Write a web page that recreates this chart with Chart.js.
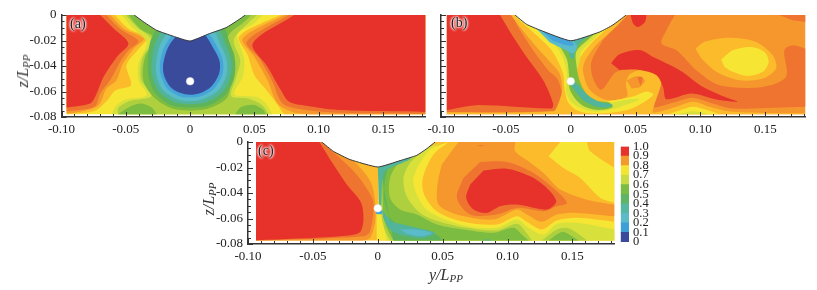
<!DOCTYPE html>
<html>
<head>
<meta charset="utf-8">
<title>Contours</title>
<script src="https://cdn.jsdelivr.net/npm/chart.js@4"></script>
<style>
  html, body { margin: 0; background: #fff; }
  #page { position: relative; width: 817px; height: 290px; overflow: hidden; font-family: "Liberation Serif", serif; color: #222; }
  canvas { position: absolute; filter: blur(0.4px); }
  .tag { position: absolute; font-size: 14px; color: #222; text-shadow: 0 0 2px #fff, 0 0 2px #fff, 0 0 3px #fff, 0 0 3px #fff; }
  .axt { position: absolute; font-size: 16px; font-style: italic; white-space: nowrap; color: #333; }
  .axt sub { font-size: 11px; vertical-align: -2px; line-height: 0; }
  .rot { transform: translate(-50%, -50%) rotate(-90deg); }
</style>
</head>
<body>
<div id="page">
  <canvas id="panelA" style="left:0;top:0"></canvas>
  <canvas id="panelB" style="left:420px;top:0"></canvas>
  <canvas id="panelC" style="left:200px;top:127px"></canvas>
  <canvas id="colorbar" style="left:612px;top:135px"></canvas>
  <div class="tag" style="left:70px;top:16px">(a)</div>
  <div class="tag" style="left:451px;top:15px">(b)</div>
  <div class="tag" style="left:258px;top:143px">(c)</div>
  <div class="axt rot" style="left:23px;top:71px">z/L<sub>PP</sub></div>
  <div class="axt rot" style="left:209px;top:199px">z/L<sub>PP</sub></div>
  <div class="axt" style="left:429px;top:266px">y/L<sub>PP</sub></div>
</div>
<script>
// tick labels and colour bar levels
const xTicks = [-0.10, -0.05, 0, 0.05, 0.10, 0.15];
const zTicks = [0, -0.02, -0.04, -0.06, -0.08];
const barLevels = [0, 0.1, 0.2, 0.3, 0.4, 0.5, 0.6, 0.7, 0.8, 0.9, 1.0];
const probe = [0, -0.052];

// contour regions: [level, [[y, z], ...]], painted in order
const hullA = [[-0.0435,0],[-0.036,-0.0055],[-0.026,-0.012],[-0.013,-0.0167],[0,-0.0204],[0.015,-0.0146],[0.028,-0.0099],[0.037,-0.0042],[0.043,0]];
const regionsA = [
  [0.7, [[-0.096,0],[0.183,0],[0.183,-0.0778],[-0.096,-0.0778]]],
  [0.75, [[-0.096,0],[-0.0585,0],[-0.048,-0.0107],[-0.0335,-0.0178],[-0.04,-0.0264],[-0.0495,-0.0395],[-0.046,-0.0551],[-0.058,-0.059],[-0.0645,-0.067],[-0.0745,-0.0752],[-0.096,-0.0778]]],
  [0.8, [[-0.096,0],[-0.0618,0],[-0.0515,-0.0107],[-0.036,-0.0185],[-0.044,-0.0264],[-0.0522,-0.0381],[-0.0573,-0.0512],[-0.065,-0.0577],[-0.0712,-0.0707],[-0.0855,-0.0759],[-0.096,-0.077]]],
  [0.85, [[-0.096,0],[-0.0652,0],[-0.0545,-0.0107],[-0.0402,-0.0204],[-0.048,-0.0277],[-0.0545,-0.0368],[-0.0622,-0.0512],[-0.07,-0.0616],[-0.0738,-0.0715],[-0.088,-0.0747],[-0.096,-0.0755]]],
  [0.95, [[-0.096,0],[-0.07,0],[-0.059,-0.011],[-0.048,-0.0224],[-0.057,-0.0329],[-0.0673,-0.0485],[-0.0738,-0.0642],[-0.0777,-0.0694],[-0.096,-0.0726]]],
  [0.75, [[0.183,0],[0.0698,0],[0.0383,-0.0167],[0.0448,-0.0316],[0.05,-0.0472],[0.0577,-0.0569],[0.0654,-0.0668],[0.0731,-0.0778],[0.183,-0.0778]]],
  [0.8, [[0.183,0],[0.0731,0],[0.0409,-0.0185],[0.05,-0.0329],[0.0602,-0.0512],[0.068,-0.0694],[0.0796,-0.076],[0.0925,-0.0778],[0.183,-0.0778]]],
  [0.85, [[0.183,0],[0.0765,0],[0.044,-0.021],[0.0538,-0.034],[0.0641,-0.0525],[0.0719,-0.0694],[0.0873,-0.0741],[0.118,-0.0767],[0.183,-0.0775]]],
  [0.95, [[0.183,0],[0.0809,0],[0.0487,-0.0224],[0.0603,-0.0407],[0.0706,-0.059],[0.077,-0.068],[0.0925,-0.0715],[0.118,-0.0746],[0.183,-0.076]]],
  [0.65, [[-0.0531,0],[-0.0454,-0.0094],[-0.0338,-0.0211],[-0.0402,-0.0381],[-0.0402,-0.0512],[-0.0338,-0.0629],[-0.0506,-0.0663],[-0.0583,-0.072],[-0.0609,-0.0778],[0.0641,-0.0778],[0.059,-0.0694],[0.0512,-0.0642],[0.0345,-0.0621],[0.0409,-0.0485],[0.0422,-0.0355],[0.0383,-0.0224],[0.037,-0.0146],[0.0487,-0.0073],[0.0564,0]]],
  [0.6, [[-0.05,0],[-0.0415,-0.0095],[-0.03,-0.0195],[-0.0375,-0.035],[-0.038,-0.051],[-0.03,-0.0635],[-0.047,-0.0675],[-0.056,-0.073],[-0.056,-0.0778],[0.061,-0.0778],[0.056,-0.0705],[0.045,-0.0655],[0.032,-0.0635],[0.036,-0.0485],[0.039,-0.0355],[0.034,-0.0195],[0.046,-0.0055],[0.052,0]]],
  [0.55, [[-0.048,0],[-0.039,-0.0107],[-0.0273,-0.0185],[-0.0351,-0.0329],[-0.0364,-0.0512],[-0.0286,-0.0642],[-0.015,-0.073],[0,-0.075],[0.015,-0.073],[0.029,-0.0645],[0.0319,-0.0485],[0.0345,-0.0316],[0.0293,-0.0172],[0.0435,-0.0042],[0.0474,0]]],
  [0.55, [[-0.056,-0.0778],[-0.048,-0.0725],[-0.0385,-0.0695],[-0.03,-0.0725],[-0.026,-0.0778]]],
  [0.55, [[0.035,-0.0778],[0.04,-0.072],[0.05,-0.0705],[0.057,-0.0745],[0.059,-0.0778]]],
  [0.5, [[-0.025,-0.008],[-0.031,-0.021],[-0.033,-0.038],[-0.032,-0.05],[-0.027,-0.0615],[-0.014,-0.071],[0,-0.0725],[0.014,-0.071],[0.0275,-0.0625],[0.034,-0.05],[0.035,-0.036],[0.0305,-0.021],[0.025,-0.008],[0,-0.001]]],
  [0.4, [[-0.021,-0.01],[-0.0275,-0.023],[-0.03,-0.038],[-0.029,-0.049],[-0.024,-0.06],[-0.012,-0.0685],[0,-0.07],[0.012,-0.0685],[0.0245,-0.061],[0.031,-0.049],[0.032,-0.036],[0.0275,-0.023],[0.021,-0.01],[0,-0.003]]],
  [0.3, [[-0.017,-0.012],[-0.024,-0.025],[-0.0265,-0.038],[-0.026,-0.048],[-0.021,-0.059],[-0.01,-0.066],[0,-0.0675],[0.01,-0.066],[0.0215,-0.0595],[0.028,-0.048],[0.0285,-0.036],[0.024,-0.024],[0.0175,-0.012],[0,-0.005]]],
  [0.2, [[-0.0135,-0.0146],[-0.0205,-0.026],[-0.0235,-0.038],[-0.0228,-0.047],[-0.018,-0.0575],[-0.009,-0.0635],[0,-0.0648],[0.009,-0.0635],[0.0185,-0.0578],[0.025,-0.047],[0.0255,-0.036],[0.021,-0.025],[0.014,-0.0146],[0,-0.008]]],
  [0.05, [[-0.0093,-0.0146],[-0.017,-0.025],[-0.0209,-0.038],[-0.0204,-0.047],[-0.0157,-0.056],[-0.008,-0.061],[0,-0.0626],[0.008,-0.0612],[0.0165,-0.056],[0.0225,-0.046],[0.0229,-0.036],[0.0175,-0.025],[0.0105,-0.0146],[0,-0.01]]]
];

const hullB = [[-0.043,0],[-0.034,-0.0073],[-0.0238,-0.0118],[0,-0.0202],[0.0223,-0.0133],[0.0325,-0.0078],[0.0428,0]];
const regionsB = [
  [0.8, [[-0.0955,0],[0.181,0],[0.181,-0.0778],[-0.0955,-0.0778]]],
  [0.85, [[-0.0955,0],[-0.045,0],[-0.0405,-0.0094],[-0.029,-0.0277],[-0.0174,-0.0433],[-0.0097,-0.0512],[-0.0059,-0.0721],[-0.0136,-0.0751],[-0.0955,-0.0775]]],
  [0.95, [[-0.0955,0],[-0.0545,0],[-0.0443,-0.0172],[-0.034,-0.0329],[-0.0212,-0.0512],[-0.0136,-0.0694],[-0.0149,-0.0733],[-0.0725,-0.0707],[-0.0955,-0.0746]]],
  [0.85, [[0.044,0],[0.0802,0],[0.0738,-0.012],[0.07,-0.0224],[0.0815,-0.0277],[0.0968,-0.0433],[0.1148,-0.0551],[0.148,-0.0564],[0.166,-0.0485],[0.1647,-0.0277],[0.1711,-0.0238],[0.181,-0.0264],[0.181,-0.072],[0.125,-0.0733],[0.1096,-0.0694],[0.0943,-0.065],[0.0815,-0.0681],[0.0636,-0.0726],[0.0597,-0.0681],[0.0712,-0.0512],[0.0674,-0.0446],[0.0559,-0.042],[0.0354,-0.0446],[0.0236,-0.0587],[0.0172,-0.0496],[0.016,-0.0365],[0.0248,-0.0196]]],
  [0.85, [[0.1608,0],[0.181,0],[0.181,-0.0055],[0.1711,-0.0042]]],
  [0.95, [[0.0462,0],[0.0482,-0.0068],[0.052,-0.0094],[0.0572,-0.0055],[0.0584,0]]],
  [0.75, [[-0.046,0],[-0.0392,-0.0094],[-0.0264,-0.0251],[-0.0148,-0.0381],[-0.0086,-0.0457],[-0.0066,-0.0588],[-0.01,-0.0705],[-0.0138,-0.0757],[-0.0955,-0.0762],[-0.0955,-0.0778],[0.181,-0.0778],[0.181,-0.0773],[0.125,-0.0759],[0.1071,-0.072],[0.0943,-0.0681],[0.0815,-0.072],[0.0636,-0.0767],[0.0636,-0.0733],[0.07,-0.0525],[0.0674,-0.0472],[0.0572,-0.0425],[0.0456,-0.0465],[0.0426,-0.0538],[0.0433,-0.064],[0.0274,-0.0666],[0.0146,-0.0587],[0.0095,-0.0444],[0.0108,-0.0365],[0.0197,-0.0235],[0.0364,-0.0078],[0.0433,0]]],
  [0.8, [[0.0431,-0.0512],[0.0508,-0.048],[0.0572,-0.0512],[0.0533,-0.0564],[0.0469,-0.0577]]],
  [0.85, [[0.0513,-0.0485],[0.0554,-0.049],[0.0538,-0.0558]]],
  [0.95, [[0.0312,-0.0378],[0.0376,-0.0308],[0.053,-0.0274],[0.0636,-0.0329],[0.084,-0.0433],[0.102,-0.0564],[0.12,-0.0647],[0.1288,-0.0681],[0.1122,-0.0663],[0.093,-0.0616],[0.0738,-0.066],[0.0712,-0.0564],[0.0661,-0.0472],[0.053,-0.0431],[0.0376,-0.0431]]],
  [0.75, [[0.0963,-0.0264],[0.1032,-0.021],[0.1224,-0.0178],[0.1429,-0.0211],[0.1557,-0.0316],[0.1583,-0.042],[0.148,-0.0499],[0.1301,-0.0512],[0.1122,-0.0446],[0.1007,-0.0342]]],
  [0.7, [[0.116,-0.035],[0.125,-0.0277],[0.1391,-0.0251],[0.1493,-0.029],[0.1526,-0.0368],[0.148,-0.0446],[0.1365,-0.0478],[0.125,-0.0446],[0.1186,-0.0407]]],
  [0.7, [[0.075,-0.0778],[0.085,-0.0745],[0.0943,-0.072],[0.105,-0.0745],[0.115,-0.0778]]],
  [0.65, [[0.083,-0.0778],[0.094,-0.0755],[0.106,-0.0778]]],
  [0.7, [[-0.043,-0.001],[-0.016,-0.0261],[-0.0084,-0.0392],[-0.0054,-0.0483],[-0.0048,-0.0575],[-0.0022,-0.068],[0.0042,-0.0745],[0.0144,-0.0771],[0.0323,-0.0765],[0.0477,-0.0731],[0.0636,-0.0627],[0.058,-0.0601],[0.0477,-0.064],[0.0323,-0.0671],[0.0195,-0.068],[0.0093,-0.0614],[0.0054,-0.051],[0.0044,-0.0444],[0.0056,-0.0365],[0.0146,-0.0235],[0.0312,-0.0078],[0.0389,-0.0013]]],
  [0.65, [[-0.04,-0.001],[-0.0136,-0.0222],[-0.0059,-0.0339],[-0.0028,-0.047],[-0.0035,-0.0601],[0.0003,-0.068],[0.008,-0.0732],[0.0195,-0.0758],[0.0349,-0.0731],[0.0477,-0.0687],[0.0528,-0.066],[0.0451,-0.0661],[0.0323,-0.0687],[0.0195,-0.0706],[0.0106,-0.0653],[0.0067,-0.0536],[0.0042,-0.0471],[0.0069,-0.0365],[0.0082,-0.0287],[0.0197,-0.017],[0.0287,-0.0078],[0.0351,-0.0013]]],
  [0.55, [[-0.036,-0.003],[-0.0136,-0.0183],[-0.0033,-0.0339],[-0.0013,-0.047],[-0.001,-0.0575],[0.0042,-0.0666],[0.0118,-0.0724],[0.022,-0.0745],[0.0323,-0.0724],[0.0298,-0.0687],[0.0195,-0.0671],[0.0118,-0.0614],[0.0067,-0.051],[0.0044,-0.0392],[0.0044,-0.0287],[0.0146,-0.0183],[0.0261,-0.0078],[0.0312,-0.0039]]],
  [0.4, [[-0.03,-0.005],[-0.011,-0.017],[-0.002,-0.0287],[0,-0.034],[0.0025,-0.034],[0.0035,-0.027],[0.0082,-0.0212],[0.02,-0.012],[0.028,-0.005]]],
  [0.4, [[-0.0005,-0.0545],[0.0093,-0.0666],[0.0195,-0.0718],[0.0272,-0.0726],[0.0323,-0.0705],[0.022,-0.068],[0.0131,-0.0627],[0.006,-0.055],[0.002,-0.052]]],
  [0.3, [[-0.027,-0.01],[0,-0.0195],[0.005,-0.0245],[0.002,-0.03],[-0.004,-0.0275],[-0.016,-0.0215]]],
  [0.2, [[-0.022,-0.0125],[0,-0.0204],[0.0023,-0.0238],[-0.0033,-0.0238],[-0.0136,-0.0204]]]
];

const hullC = [[-0.0432,0],[-0.0342,-0.0073],[-0.0213,-0.0138],[0,-0.0196],[0.0172,-0.0146],[0.0301,-0.0104],[0.0378,-0.0052],[0.0442,0]];
const regionsC = [
  [0.75, [[-0.0938,0],[0.1824,0],[0.1824,-0.0773],[-0.0938,-0.0773]]],
  [0.8, [[-0.0938,0],[-0.04,0],[-0.0213,-0.0125],[-0.0111,-0.023],[-0.0046,-0.0334],[-0.002,-0.0478],[-0.002,-0.0621],[-0.0059,-0.0752],[-0.012,-0.0773],[-0.0938,-0.0773]]],
  [0.85, [[-0.0938,0],[-0.0432,0],[-0.0265,-0.0151],[-0.0162,-0.0256],[-0.0072,-0.0386],[-0.0033,-0.0478],[-0.0059,-0.07],[-0.011,-0.0739],[-0.0938,-0.0773]]],
  [0.95, [[-0.0938,0],[-0.045,0],[-0.0342,-0.0177],[-0.0239,-0.0334],[-0.0123,-0.0491],[-0.0131,-0.07],[-0.029,-0.0739],[-0.0938,-0.077]]],
  [0.8, [[0.0622,0],[0.1059,0],[0.1059,-0.0073],[0.1161,-0.0151],[0.1277,-0.0243],[0.1406,-0.0373],[0.1611,-0.0452],[0.1824,-0.0491],[0.1824,-0.0582],[0.1534,-0.0556],[0.138,-0.0569],[0.1264,-0.0626],[0.1149,-0.0569],[0.1072,-0.053],[0.0892,-0.0608],[0.0609,-0.0569],[0.0468,-0.0491],[0.046,-0.0334],[0.0493,-0.0177]]],
  [0.85, [[0.0789,-0.0157],[0.0994,-0.0157],[0.12,-0.0243],[0.138,-0.0386],[0.1457,-0.0478],[0.138,-0.0504],[0.1277,-0.0543],[0.1072,-0.0517],[0.0917,-0.0569],[0.0712,-0.0569],[0.0609,-0.0438],[0.066,-0.0282]]],
  [0.95, [[0.0815,-0.0224],[0.0994,-0.0209],[0.1174,-0.0269],[0.1303,-0.036],[0.1375,-0.0465],[0.1303,-0.053],[0.1072,-0.0491],[0.0943,-0.0504],[0.084,-0.0556],[0.0737,-0.053],[0.0681,-0.0438],[0.0712,-0.0334]]],
  [0.7, [[0.1406,0],[0.1611,0],[0.1637,-0.0073],[0.1824,-0.0204],[0.1824,-0.0478],[0.1714,-0.0438],[0.156,-0.0282],[0.1431,-0.0204],[0.1316,-0.0112]]],
  [0.85, [[0.0765,-0.0025],[0.0789,-0.0033],[0.083,-0.0025]]],
  [0.7, [[0,-0.019],[0.0545,0],[0.0429,-0.0099],[0.0347,-0.0282],[0.0357,-0.0412],[0.0455,-0.0543],[0.066,-0.0626],[0.0917,-0.0647],[0.1072,-0.0582],[0.1149,-0.0626],[0.1264,-0.0686],[0.138,-0.0616],[0.1534,-0.0595],[0.1824,-0.0626],[0.1824,-0.0773],[-0.0008,-0.0773],[-0.0008,-0.0569],[0.0005,-0.049]]],
  [0.65, [[0.0018,-0.0204],[0.0493,0],[0.0378,-0.0086],[0.0275,-0.0282],[0.0301,-0.0412],[0.039,-0.0543],[0.066,-0.0653],[0.0917,-0.0673],[0.1072,-0.0608],[0.1161,-0.0673],[0.1277,-0.0726],[0.138,-0.0642],[0.1534,-0.0634],[0.1824,-0.0686],[0.1824,-0.0773],[0.0069,-0.0773],[0.0039,-0.0621],[0.0018,-0.0517]]],
  [0.6, [[0.002,-0.02],[0.0352,-0.006],[0.0249,-0.0164],[0.0198,-0.0282],[0.0223,-0.0425],[0.0326,-0.0556],[0.048,-0.0626],[0.066,-0.0668],[0.0917,-0.0694],[0.1072,-0.0642],[0.1136,-0.07],[0.1187,-0.0773],[0.0095,-0.0773],[0.0057,-0.07],[0.0031,-0.0595],[0.0026,-0.0465]]],
  [0.55, [[0.002,-0.02],[0.0275,-0.0099],[0.0172,-0.0151],[0.0095,-0.0282],[0.0095,-0.0438],[0.0172,-0.053],[0.03,-0.0569],[0.0455,-0.0647],[0.066,-0.0686],[0.0892,-0.0712],[0.1046,-0.0673],[0.111,-0.0726],[0.1161,-0.0773],[0.0121,-0.0773],[0.0082,-0.07],[0.0044,-0.0595],[0.0039,-0.0465],[0.0031,-0.0204]]],
  [0.6, [[0.1264,-0.0773],[0.138,-0.0686],[0.1457,-0.0673],[0.1534,-0.0712],[0.1611,-0.0773]]],
  [0.55, [[0.1316,-0.0773],[0.138,-0.0726],[0.1431,-0.0705],[0.1496,-0.0739],[0.1547,-0.0773]]],
  [0.5, [[0.002,-0.02],[0.008,-0.0185],[0.0055,-0.03],[0.005,-0.045],[0.01,-0.06],[0.018,-0.066],[0.045,-0.0725],[0.05,-0.0773],[0.012,-0.0773]]],
  [0.4, [[0,-0.02],[0.0249,-0.0112],[0.0249,-0.0135],[0.006,-0.0225],[0.0035,-0.03],[0.0025,-0.05],[0.001,-0.05]]],
  [0.4, [[0.0031,-0.053],[0.0108,-0.0626],[0.0172,-0.0642],[0.03,-0.0673],[0.0442,-0.0713],[0.0352,-0.0752],[0.0223,-0.0739],[0.0146,-0.072],[0.0082,-0.0673],[0.0044,-0.0595]]],
  [0.3, [[0.0172,-0.0686],[0.03,-0.0686],[0.0416,-0.0715],[0.0326,-0.0739],[0.0223,-0.072]]],
  [0.4, [[0.0789,-0.0773],[0.084,-0.0765],[0.0904,-0.0773]]],
  [0.2, [[-0.002,-0.054],[0.003,-0.054],[0.003,-0.0565],[-0.001,-0.0565]]]
];

const levelColors = {
  0.05: '#3B4B9C', 0.15: '#3E82C4', 0.2: '#45A5DA', 0.3: '#5ABBCB', 0.4: '#52B49A', 0.5: '#5DB45C',
  0.55: '#7CBC40', 0.6: '#AFD03E', 0.65: '#D8E03C', 0.7: '#F6E633', 0.75: '#FBBB2B', 0.8: '#F6972D',
  0.85: '#EE7430', 0.95: '#E6322B'
};
const barColors = ['#3B4B9C', '#3FA0D8', '#5DBBC9', '#57B7A0', '#5FB565', '#7DBC42', '#CBDB44', '#F5E533', '#F39A2C', '#E6322B'];

const toPoints = pts => pts.map(([x, y]) => ({ x, y }));
const fontTick = { family: '"Liberation Serif", serif', size: 13 };

// keep corners on the data edge square when the spline goes through them
function squareEdges(pts, xMin, xMax, zMin) {
  return pts.flatMap(p => (p[1] === 0 || p[1] <= zMin || p[0] <= xMin || p[0] >= xMax) ? [p, p] : [p]);
}

// ticks point inward in the original, so they get drawn by hand from the scales
const innerTicks = {
  id: 'innerTicks',
  afterDatasetsDraw(chart) {
    const { ctx, chartArea, scales: { x, y } } = chart;
    ctx.save();
    ctx.strokeStyle = '#333';
    ctx.lineWidth = 1;
    for (let i = -10; i <= 18; i++) {
      const v = i / 100;
      if (v > x.max) break;
      const px = Math.round(x.getPixelForValue(v)) + 0.5;
      ctx.beginPath();
      ctx.moveTo(px, chartArea.bottom);
      ctx.lineTo(px, chartArea.bottom - (i % 5 === 0 ? 5 : 3));
      ctx.stroke();
    }
    for (let i = 0; i <= 16; i++) {
      const py = Math.round(y.getPixelForValue(-i * 0.005)) + 0.5;
      ctx.beginPath();
      ctx.moveTo(chartArea.left, py);
      ctx.lineTo(chartArea.left + (i % 4 === 0 ? 5 : 3), py);
      ctx.stroke();
    }
    ctx.restore();
  }
};

function drawPanel(id, regions, hull, o) {
  const canvas = document.getElementById(id);
  canvas.width = o.w;
  canvas.height = o.h;
  const datasets = regions.map(([level, pts]) => ({
    data: toPoints(squareEdges(pts, o.xEdge, o.xMax - 0.004, o.zEdge)),
    showLine: true,
    fill: 'shape',
    backgroundColor: levelColors[level],
    borderWidth: 0,
    pointRadius: 0,
    tension: 0.3
  }));
  // ship hull section cut out of the field
  datasets.push({
    data: toPoints(hull),
    showLine: true,
    fill: 'shape',
    backgroundColor: '#fff',
    borderColor: '#3a3a3a',
    borderWidth: 1,
    pointRadius: 0,
    tension: 0.15
  });
  datasets.push({
    data: toPoints([probe]),
    showLine: false,
    pointRadius: 3.8,
    pointBackgroundColor: '#fff',
    pointBorderColor: '#dfe6ea',
    pointBorderWidth: 0.5
  });
  datasets.forEach((d, i) => { d.order = -i; });

  new Chart(canvas, {
    type: 'scatter',
    data: { datasets },
    plugins: [innerTicks],
    options: {
      responsive: false,
      animation: false,
      events: [],
      layout: { padding: { top: o.top, right: o.right, left: 0, bottom: 0 } },
      plugins: { legend: { display: false }, tooltip: { enabled: false } },
      scales: {
        x: {
          type: 'linear',
          min: -0.10,
          max: o.xMax,
          afterFit: s => { s.height = o.bottom; },
          afterBuildTicks: s => { s.ticks = xTicks.map(value => ({ value })); },
          grid: { display: false, drawTicks: false },
          border: { display: true, color: '#333', width: 1.5 },
          ticks: { padding: 5, maxRotation: 0, color: '#222', font: fontTick, autoSkip: false,
                   callback: v => v === 0 ? '0' : v.toFixed(2) }
        },
        y: {
          type: 'linear',
          min: -0.08,
          max: 0,
          afterFit: s => { s.width = o.left; },
          afterBuildTicks: s => { s.ticks = zTicks.map(value => ({ value })); },
          grid: { display: false, drawTicks: false },
          border: { display: true, color: '#333', width: 1.5 },
          ticks: { display: o.zLabels, padding: 5, color: '#222', font: fontTick, autoSkip: false,
                   callback: v => v === 0 ? '0' : v.toFixed(2) }
        }
      }
    }
  });
}

drawPanel('panelA', regionsA, hullA, { w: 430, h: 145, top: 15, right: 3.4, left: 61.5, bottom: 28, xMax: 0.183, xEdge: -0.0955, zEdge: -0.0775, zLabels: true });
drawPanel('panelB', regionsB, hullB, { w: 390, h: 145, top: 15, right: 3.7, left: 21, bottom: 28, xMax: 0.181, xEdge: -0.095, zEdge: -0.0775, zLabels: false });
drawPanel('panelC', regionsC, hullC, { w: 420, h: 150, top: 15, right: 5.5, left: 48, bottom: 33, xMax: 0.1824, xEdge: -0.0935, zEdge: -0.077, zLabels: true });

// colour bar
const barCanvas = document.getElementById('colorbar');
barCanvas.width = 70;
barCanvas.height = 120;
new Chart(barCanvas, {
  type: 'bar',
  data: {
    labels: ['level'],
    datasets: barColors.map((c, i) => ({
      data: [[barLevels[i], barLevels[i + 1]]],
      backgroundColor: c,
      barPercentage: 1,
      categoryPercentage: 1,
      grouped: false
    }))
  },
  options: {
    responsive: false,
    animation: false,
    events: [],
    layout: { padding: { top: 10, bottom: 13, left: 8.7, right: 0 } },
    plugins: { legend: { display: false }, tooltip: { enabled: false } },
    scales: {
      x: { display: false },
      y: {
        position: 'right',
        min: 0,
        max: 1,
        afterFit: s => { s.width = 53; },
        grid: { display: false, drawTicks: false },
        border: { display: false },
        ticks: { stepSize: 0.1, padding: 4, color: '#222', autoSkip: false, font: { family: '"Liberation Serif", serif', size: 12.5 },
                 callback: v => v === 0 ? '0' : v.toFixed(1) }
      }
    }
  }
});
</script>
</body>
</html>
